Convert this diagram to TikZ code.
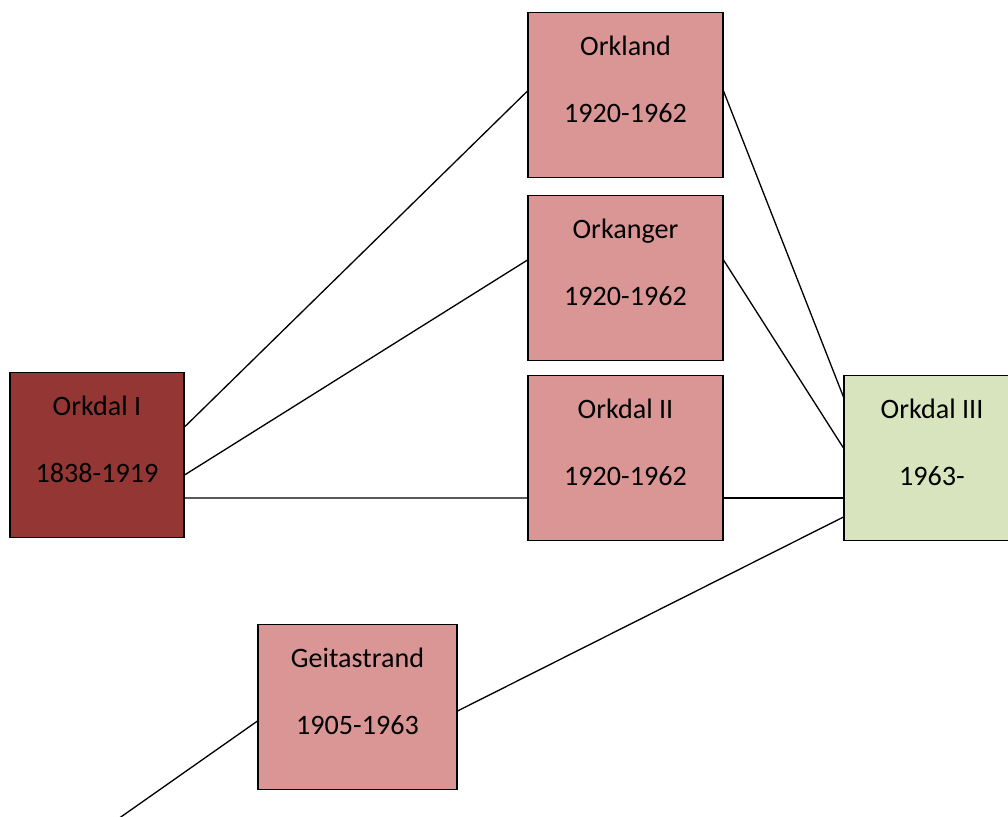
\documentclass[tikz,border=0pt]{standalone}
\usepackage{fontspec}
\setmainfont{Carlito}
\definecolor{darkred}{HTML}{943634}
\definecolor{rosa}{HTML}{D99694}
\definecolor{lightgreen}{HTML}{D7E4BD}
\tikzset{
  kommune/.style={draw, line width=0.6pt, rectangle, inner sep=0pt, align=center,
    font=\fontsize{16}{19.5}\selectfont, text height=24.4pt, text depth=69.7pt},
  forbindelse/.style={line width=0.75pt}
}
\begin{document}
\begin{tikzpicture}[x=0.02cm, y=-0.02cm]
\clip (0,0) rectangle (1008,816);
\node[kommune, fill=darkred, minimum width=3.48cm] (orkI) at (97,455) {\begin{tabular}[t]{c}Orkdal I\\[19pt]1838-1919\end{tabular}};
\node[kommune, fill=rosa, minimum width=3.9cm] (orkland) at (625.5,95) {\begin{tabular}[t]{c}Orkland\\[19pt]1920-1962\end{tabular}};
\node[kommune, fill=rosa, minimum width=3.9cm] (orkanger) at (625.5,278) {\begin{tabular}[t]{c}Orkanger\\[19pt]1920-1962\end{tabular}};
\node[kommune, fill=rosa, minimum width=3.9cm] (orkII) at (625.5,458) {\begin{tabular}[t]{c}Orkdal II\\[19pt]1920-1962\end{tabular}};
\node[kommune, fill=lightgreen, minimum width=3.52cm] (orkIII) at (932,458) {\begin{tabular}[t]{c}Orkdal III\\[19pt]1963-\end{tabular}};
\node[kommune, fill=rosa, minimum width=3.98cm] (geita) at (357.5,707) {\begin{tabular}[t]{c}Geitastrand\\[19pt]1905-1963\end{tabular}};
\coordinate (geitaend) at (108,826);
\draw[forbindelse] ([yshift=0.56cm]orkI.east) -- ([yshift=0.08cm]orkland.west);
\draw[forbindelse] ([yshift=-0.4cm]orkI.east) -- ([yshift=0.36cm]orkanger.west);
\draw[forbindelse] ([yshift=-0.86cm]orkI.east) -- ([yshift=-0.8cm]orkII.west);
\draw[forbindelse] ([yshift=0.08cm]orkland.east) -- ([yshift=1.22cm]orkIII.west);
\draw[forbindelse] ([yshift=0.36cm]orkanger.east) -- ([yshift=0.2cm]orkIII.west);
\draw[forbindelse] ([yshift=-0.8cm]orkII.east) -- ([yshift=-0.8cm]orkIII.west);
\draw[forbindelse] ([yshift=-0.08cm]geita.east) -- ([yshift=-1.18cm]orkIII.west);
\draw[forbindelse] ([yshift=-0.28cm]geita.west) -- (geitaend);
\end{tikzpicture}
\end{document}
